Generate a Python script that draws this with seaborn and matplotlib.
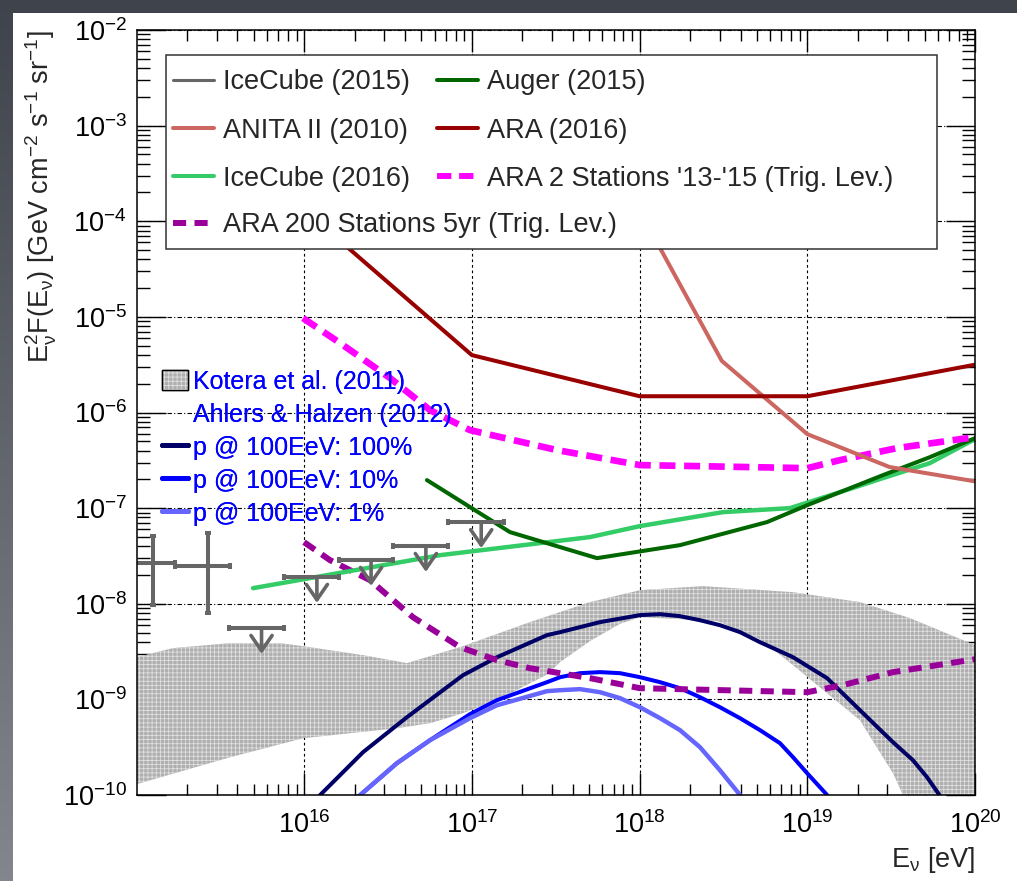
import numpy as np
import matplotlib
matplotlib.use("Agg")
import matplotlib.pyplot as plt
from matplotlib.patches import Rectangle, Patch
from matplotlib.lines import Line2D
from matplotlib.colors import LinearSegmentedColormap
from matplotlib.ticker import FixedLocator, LogFormatterSciNotation, NullFormatter
import seaborn as sns

# ---------------------------------------------------------------------------
# Data: energies as log10(E / eV), fluxes as log10(E^2 F / GeV cm^-2 s^-1 sr^-1)
# ---------------------------------------------------------------------------

# IceCube (2015): two measured bins and five upper limits (bin edges in log10 E)
ic15_pt_lo = [14.90, 15.23]
ic15_pt_hi = [15.23, 15.56]
ic15_pt_flux = [2.66e-8, 2.47e-8]
ic15_pt_err_lo = [9.7e-9, 8.0e-9]
ic15_pt_err_hi = [5.1e-8, 5.47e-8]

ic15_ul_lo = [15.55, 15.88, 16.21, 16.53, 16.86]
ic15_ul_hi = [15.88, 16.21, 16.53, 16.86, 17.19]
ic15_ul_flux = [5.56e-9, 1.9e-8, 2.86e-8, 4.0e-8, 7.1e-8]

# ANITA II (2010)
anita_logE = [18.00, 18.49, 19.00, 19.49, 20.00]
anita_logF = [-3.89, -5.46, -6.226, -6.57, -6.72]

# IceCube (2016)
ic16_logE = [15.695, 16.81, 17.704, 18.002, 18.497, 18.897, 19.195, 19.451, 19.731, 19.988]
ic16_logF = [-7.837, -7.492, -7.303, -7.188, -7.042, -7.00, -6.833, -6.686, -6.529, -6.289]

# Auger (2015)
auger_logE = [16.732, 17.227, 17.746, 18.241, 18.76, 19.00, 19.451, 19.731, 20.00]
auger_logF = [-6.707, -7.251, -7.523, -7.387, -7.146, -6.969, -6.655, -6.467, -6.268]

# ARA (2016)
ara16_logE = [16.0, 17.0, 18.0, 19.0, 20.0]
ara16_logF = [-3.88, -5.40, -5.83, -5.83, -5.50]

# ARA 2 Stations '13-'15 (trigger level)
ara2_logE = [15.993, 16.214, 16.512, 16.75, 16.988, 17.507, 18.002, 19.00, 19.195, 19.535, 20.00]
ara2_logF = [-5.013, -5.274, -5.64, -5.975, -6.184, -6.393, -6.55, -6.582, -6.498, -6.372, -6.257]

# ARA 200 Stations 5yr (trigger level)
ara200_logE = [15.999, 16.154, 16.392, 16.648, 16.929, 17.15, 17.346, 17.704, 18.002, 19.00,
               19.213, 19.511, 20.00]
ara200_logF = [-7.356, -7.544, -7.753, -8.14, -8.454, -8.59, -8.674, -8.778, -8.883, -8.925,
               -8.851, -8.715, -8.58]

# Kotera et al. (2011) band: upper and lower edges
kot_up_logE = [15.0, 15.218, 15.558, 15.856, 15.993, 16.351, 16.613, 16.947, 17.346, 17.704,
               18.002, 18.378, 18.915, 19.314, 19.613, 20.0]
kot_up_logF = [-8.559, -8.464, -8.412, -8.412, -8.444, -8.538, -8.621, -8.444, -8.192, -7.983,
               -7.858, -7.816, -7.879, -7.983, -8.151, -8.433]
kot_lo_logE = [15.0, 15.558, 15.993, 16.554, 16.75, 16.947, 17.15, 17.448, 17.526, 17.704,
               17.883, 18.002, 18.462, 18.718, 18.915, 19.314, 19.511, 19.65, 20.0]
kot_lo_logF = [-9.887, -9.605, -9.406, -9.301, -9.249, -9.144, -9.008, -8.74, -8.61, -8.39,
               -8.21, -8.14, -8.18, -8.37, -8.642, -9.218, -9.772, -10.3, -10.3]

# Ahlers & Halzen (2012), proton fraction at 100 EeV
ah100_logE = [16.094, 16.351, 16.613, 16.947, 17.15, 17.448, 17.526, 17.764, 18.002, 18.122,
              18.241, 18.36, 18.479, 18.599, 18.718, 18.915, 19.118, 19.314, 19.511, 19.63,
              19.714, 19.797]
ah100_logF = [-10.002, -9.552, -9.186, -8.747, -8.559, -8.328, -8.297, -8.192, -8.119, -8.109,
              -8.13, -8.172, -8.224, -8.297, -8.402, -8.559, -8.778, -9.113, -9.448, -9.636,
              -9.814, -10.023]
ah10_logE = [16.321, 16.553, 16.75, 16.988, 17.15, 17.448, 17.526, 17.645, 17.764, 17.883,
             18.002, 18.122, 18.241, 18.36, 18.479, 18.599, 18.718, 18.837, 18.915, 18.999,
             19.118]
ah10_logF = [-10.02, -9.667, -9.427, -9.155, -9.008, -8.82, -8.768, -8.726, -8.715, -8.726,
             -8.768, -8.82, -8.883, -8.977, -9.082, -9.197, -9.322, -9.458, -9.605, -9.772,
             -10.0]
ah1_logE = [16.321, 16.553, 16.75, 16.988, 17.15, 17.448, 17.526, 17.645, 17.764, 17.883,
            18.002, 18.122, 18.241, 18.36, 18.479, 18.599]
ah1_logF = [-10.02, -9.667, -9.427, -9.197, -9.061, -8.914, -8.904, -8.893, -8.925, -8.987,
            -9.082, -9.197, -9.322, -9.50, -9.741, -10.0]

# ---------------------------------------------------------------------------
# Style
# ---------------------------------------------------------------------------
sns.set_theme(style="ticks")
plt.rcParams.update({
    "font.family": ["Liberation Sans", "DejaVu Sans"],
    "mathtext.fontset": "custom",
    "mathtext.rm": "Liberation Sans",
    "mathtext.it": "Liberation Sans:italic",
    "mathtext.bf": "Liberation Sans:bold",
    "mathtext.default": "regular",
    "axes.unicode_minus": False,
    "hatch.linewidth": 0.55,
    "hatch.color": "#e2e2e2",
    "axes.edgecolor": "black",
    "axes.linewidth": 1.1,
})

C_IC15 = "#666666"
C_ANITA = "#cc6661"
C_IC16 = "#33cc66"
C_AUGER = "#006600"
C_ARA16 = "#990000"
C_ARA2 = "#ff00ff"
C_ARA200 = "#990099"
C_AH100 = "#000066"
C_AH10 = "#0000ff"
C_AH1 = "#6666ff"
C_BAND = "#afafaf"
C_HATCH = "#e2e2e2"
DASH_ARA2 = (0, (2.4, 1.3))
DASH_ARA200 = (0, (2.2, 1.4))
W, H = 1017, 881

fig = plt.figure(figsize=(W / 100, H / 100), dpi=100)

# backdrop: dark gradient with a white sheet
bg = fig.add_axes([0, 0, 1, 1], zorder=-10)
grad = np.linspace(0, 1, 256).reshape(-1, 1)
bg.imshow(grad, aspect="auto", extent=[0, 1, 0, 1], origin="upper",
          cmap=LinearSegmentedColormap.from_list("bg", ["#3f434b", "#83868c"]))
bg.add_patch(Rectangle((13 / W, 0), 1, 1 - 13 / H, transform=bg.transAxes,
                       facecolor="white", edgecolor="none"))
bg.axis("off")

ax = fig.add_axes([136.5 / W, 1 - 795 / H, 838.5 / W, 765 / H])
ax.set_xscale("log")
ax.set_yscale("log")
ax.set_xlim(1e15, 1e20)
ax.set_ylim(1e-10, 1e-2)
ax.set_axisbelow("line")
ax.xaxis.grid(True, which="major", color="black", lw=0.8, linestyle=(0, (2.5, 2.5)))
ax.yaxis.grid(True, which="major", color="black", lw=0.8, linestyle=(0, (4, 2, 1, 2)))

# Kotera band
bx = 10 ** np.concatenate([kot_up_logE, kot_lo_logE[::-1]])
by = 10 ** np.concatenate([kot_up_logF, kot_lo_logF[::-1]])
ax.fill(bx, by, facecolor=C_BAND, edgecolor=C_HATCH, hatch="++++", lw=0, zorder=1.7)


def curve(logE, logF, color, lw, ls="-"):
    sns.lineplot(x=10 ** np.asarray(logE), y=10 ** np.asarray(logF), ax=ax, color=color,
                 linewidth=lw, linestyle=ls, legend=False, errorbar=None, sort=False)


curve(ah100_logE, ah100_logF, C_AH100, 2.9)
curve(ah10_logE, ah10_logF, C_AH10, 2.9)
curve(ah1_logE, ah1_logF, C_AH1, 3.2)
curve(ara200_logE, ara200_logF, C_ARA200, 4.3, DASH_ARA200)
curve(ic16_logE, ic16_logF, C_IC16, 3.2)
curve(auger_logE, auger_logF, C_AUGER, 2.9)
curve(ara2_logE, ara2_logF, C_ARA2, 4.8, DASH_ARA2)
curve(anita_logE, anita_logF, C_ANITA, 2.9)
curve(ara16_logE, ara16_logF, C_ARA16, 2.9)

# IceCube (2015) measured points
lo = 10 ** np.asarray(ic15_pt_lo)
hi = 10 ** np.asarray(ic15_pt_hi)
xc = 0.5 * (lo + hi)
fl = np.asarray(ic15_pt_flux)
ax.errorbar(xc, fl, xerr=[xc - lo, hi - xc],
            yerr=[fl - np.asarray(ic15_pt_err_lo), np.asarray(ic15_pt_err_hi) - fl],
            fmt="none", ecolor=C_IC15, elinewidth=2.9, capsize=2.5, capthick=2.9, zorder=3)

# IceCube (2015) upper limits
lo = 10 ** np.asarray(ic15_ul_lo)
hi = 10 ** np.asarray(ic15_ul_hi)
xc = 0.5 * (lo + hi)
ul = np.asarray(ic15_ul_flux)
ax.errorbar(xc, ul, xerr=[xc - lo, hi - xc], fmt="none", ecolor=C_IC15,
            elinewidth=2.9, capsize=2.5, capthick=2.9, zorder=3)
for x0, y0 in zip(xc, ul):
    ax.annotate("", xy=(x0, y0 * 10 ** -0.27), xytext=(x0, y0),
                arrowprops=dict(arrowstyle="->,head_length=0.55,head_width=0.38",
                                color=C_IC15, lw=2.6, mutation_scale=20,
                                shrinkA=0, shrinkB=0), zorder=3)

# ticks
ax.xaxis.set_major_locator(FixedLocator([1e16, 1e17, 1e18, 1e19, 1e20]))
ax.xaxis.set_minor_locator(FixedLocator([m * 10.0 ** k for k in range(15, 20)
                                         for m in range(2, 10)]))
ax.yaxis.set_major_locator(FixedLocator([10.0 ** k for k in range(-10, -1)]))
ax.yaxis.set_minor_locator(FixedLocator([m * 10.0 ** k for k in range(-10, -2)
                                         for m in range(2, 10)]))
ax.xaxis.set_major_formatter(LogFormatterSciNotation())
ax.yaxis.set_major_formatter(LogFormatterSciNotation())
ax.xaxis.set_minor_formatter(NullFormatter())
ax.yaxis.set_minor_formatter(NullFormatter())
ax.tick_params(which="both", direction="in", top=True, right=True, left=True, bottom=True)
ax.tick_params(axis="x", which="major", length=15.8, width=1.0, color="black", pad=12,
               labelsize=19.5, labelcolor="black")
ax.tick_params(axis="x", which="minor", length=7.9, width=1.0, color="black")
ax.tick_params(axis="y", which="major", length=21, width=1.0, color="black", pad=7,
               labelsize=19.5, labelcolor="black")
ax.tick_params(axis="y", which="minor", length=9.4, width=1.0, color="black")

ax.set_xlabel(r"$\mathrm{E_{\nu}}$ [eV]", loc="right", fontsize=19.5)
ax.xaxis.set_label_coords(1.0, -0.066)
ax.set_ylabel(r"$\mathrm{E_{\nu}^{2}F(E_{\nu})}$ [GeV cm$^{-2}$ s$^{-1}$ sr$^{-1}$]",
              loc="top", fontsize=19.5)
ax.yaxis.set_label_coords(-0.092, 1.0)

# experiment legend in a white box
ax.add_patch(Rectangle((0.0352, 0.7137), 0.9195, 0.2536, transform=ax.transAxes,
                       facecolor="white", edgecolor="#333333", lw=1.1, zorder=4.5,
                       clip_on=False))
leg_kw = dict(loc="upper left", frameon=False, fontsize=19.5, handlelength=1.5,
              handletextpad=0.35, borderpad=0, borderaxespad=0)
handles_a = [Line2D([], [], color=C_IC15, lw=2.2),
             Line2D([], [], color=C_ANITA, lw=2.9),
             Line2D([], [], color=C_IC16, lw=2.9),
             Line2D([], [], color=C_AUGER, lw=2.9),
             Line2D([], [], color=C_ARA16, lw=2.9),
             Line2D([], [], color=C_ARA2, lw=4.3, linestyle=DASH_ARA2)]
labels_a = ["IceCube (2015)", "ANITA II (2010)", "IceCube (2016)",
            "Auger (2015)", "ARA (2016)", "ARA 2 Stations '13-'15 (Trig. Lev.)"]
legA = ax.legend(handles_a, labels_a, ncol=2, columnspacing=1.0, labelspacing=0.82,
                 bbox_to_anchor=(0.0435, 0.9485), **leg_kw)
legA.set_zorder(5)
ax.add_artist(legA)
legB = ax.legend([Line2D([], [], color=C_ARA200, lw=4.3, linestyle=DASH_ARA200)],
                 ["ARA 200 Stations 5yr (Trig. Lev.)"],
                 bbox_to_anchor=(0.0435, 0.7615), **leg_kw)
legB.set_zorder(5)
ax.add_artist(legB)

# model legend
h_kot = (Patch(facecolor=C_BAND, edgecolor=C_HATCH, hatch="++++", lw=0),
         Patch(facecolor="none", edgecolor="black", lw=1.0))
legC = ax.legend([h_kot, Line2D([], [], linestyle="none"),
                  Line2D([], [], color=C_AH100, lw=3.6),
                  Line2D([], [], color=C_AH10, lw=3.6),
                  Line2D([], [], color=C_AH1, lw=3.6)],
                 ["Kotera et al. (2011)", "Ahlers & Halzen (2012)",
                  "p @ 100EeV: 100%", "p @ 100EeV: 10%", "p @ 100EeV: 1%"],
                 loc="upper left", bbox_to_anchor=(0.0304, 0.556), frameon=False,
                 fontsize=18, labelcolor="#0000ff", handlelength=1.05,
                 handleheight=0.9, handletextpad=0.2, labelspacing=0.36,
                 borderpad=0, borderaxespad=0)
legC.set_zorder(5)
ax.add_artist(legC)

for s in ax.spines.values():
    s.set_zorder(6)

fig.savefig("out.png", dpi=100)
